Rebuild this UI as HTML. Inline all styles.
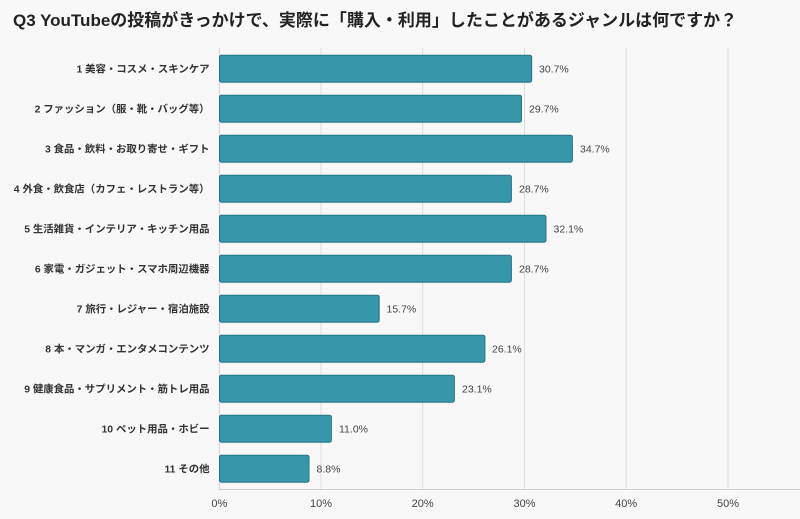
<!DOCTYPE html>
<html>
<head>
<meta charset="utf-8">
<style>
  html,body{margin:0;padding:0;background:#f8f8f8;}
  body{width:800px;height:519px;overflow:hidden;}
  svg{display:block;}
  .title{font-family:"Liberation Sans","Noto Sans CJK JP",sans-serif;font-weight:bold;font-size:17px;fill:#222;}
  .cat{font-family:"Liberation Sans","Noto Sans CJK JP",sans-serif;font-weight:bold;font-size:10.4px;fill:#333;}
  .val{font-family:"Liberation Sans","Noto Sans CJK JP",sans-serif;font-size:10.5px;fill:#444;}
  .tick{font-family:"Liberation Sans","Noto Sans CJK JP",sans-serif;font-size:11px;fill:#444;}
</style>
</head>
<body>
<svg width="800" height="519" viewBox="0 0 800 519" xmlns="http://www.w3.org/2000/svg">
  <rect x="0" y="0" width="800" height="519" fill="#f8f8f8"/>
  <text class="title" x="13" y="26">Q3 YouTubeの投稿がきっかけで、実際に「購入・利用」したことがあるジャンルは何ですか？</text>

  <!-- gridlines -->
  <g stroke="#dcdcdc" stroke-width="1">
    <line x1="321" y1="48" x2="321" y2="490"/>
    <line x1="422.7" y1="48" x2="422.7" y2="490"/>
    <line x1="524.5" y1="48" x2="524.5" y2="490"/>
    <line x1="626.2" y1="48" x2="626.2" y2="490"/>
    <line x1="728" y1="48" x2="728" y2="490"/>
  </g>
  <line x1="219.3" y1="48" x2="219.3" y2="490" stroke="#cfcfcf" stroke-width="1"/>
  <line x1="219" y1="489.5" x2="800" y2="489.5" stroke="#d0d0d0" stroke-width="1"/>

  <!-- bars -->
  <g fill="#3597a9" stroke="#2a7381" stroke-width="1">
    <rect x="219.5" y="55.2" width="312.2" height="27" rx="2"/>
    <rect x="219.5" y="95.2" width="302" height="27" rx="2"/>
    <rect x="219.5" y="135.2" width="352.9" height="27" rx="2"/>
    <rect x="219.5" y="175.2" width="291.9" height="27" rx="2"/>
    <rect x="219.5" y="215.2" width="326.5" height="27" rx="2"/>
    <rect x="219.5" y="255.2" width="291.9" height="27" rx="2"/>
    <rect x="219.5" y="295.2" width="159.7" height="27" rx="2"/>
    <rect x="219.5" y="335.2" width="265.4" height="27" rx="2"/>
    <rect x="219.5" y="375.2" width="234.9" height="27" rx="2"/>
    <rect x="219.5" y="415.2" width="111.9" height="27" rx="2"/>
    <rect x="219.5" y="455.2" width="89.5" height="27" rx="2"/>
  </g>

  <!-- category labels -->
  <g text-anchor="end">
    <text class="cat" x="209.5" y="72.5">1 美容・コスメ・スキンケア</text>
    <text class="cat" x="209.5" y="112.5">2 ファッション（服・靴・バッグ等）</text>
    <text class="cat" x="209.5" y="152.5">3 食品・飲料・お取り寄せ・ギフト</text>
    <text class="cat" x="209.5" y="192.5">4 外食・飲食店（カフェ・レストラン等）</text>
    <text class="cat" x="209.5" y="232.5">5 生活雑貨・インテリア・キッチン用品</text>
    <text class="cat" x="209.5" y="272.5">6 家電・ガジェット・スマホ周辺機器</text>
    <text class="cat" x="209.5" y="312.5">7 旅行・レジャー・宿泊施設</text>
    <text class="cat" x="209.5" y="352.5">8 本・マンガ・エンタメコンテンツ</text>
    <text class="cat" x="209.5" y="392.5">9 健康食品・サプリメント・筋トレ用品</text>
    <text class="cat" x="209.5" y="432.5">10 ペット用品・ホビー</text>
    <text class="cat" x="209.5" y="472.5">11 その他</text>
  </g>

  <!-- value labels -->
  <g>
    <text class="val" x="539" y="72.5">30.7%</text>
    <text class="val" x="529" y="112.5">29.7%</text>
    <text class="val" x="580" y="152.5">34.7%</text>
    <text class="val" x="519" y="192.5">28.7%</text>
    <text class="val" x="553.5" y="232.5">32.1%</text>
    <text class="val" x="519" y="272.5">28.7%</text>
    <text class="val" x="386.5" y="312.5">15.7%</text>
    <text class="val" x="492" y="352.5">26.1%</text>
    <text class="val" x="462" y="392.5">23.1%</text>
    <text class="val" x="339" y="432.5">11.0%</text>
    <text class="val" x="316.5" y="472.5">8.8%</text>
  </g>

  <!-- tick labels -->
  <g text-anchor="middle">
    <text class="tick" x="219.3" y="507">0%</text>
    <text class="tick" x="321" y="507">10%</text>
    <text class="tick" x="422.7" y="507">20%</text>
    <text class="tick" x="524.5" y="507">30%</text>
    <text class="tick" x="626.2" y="507">40%</text>
    <text class="tick" x="728" y="507">50%</text>
  </g>
</svg>
</body>
</html>
